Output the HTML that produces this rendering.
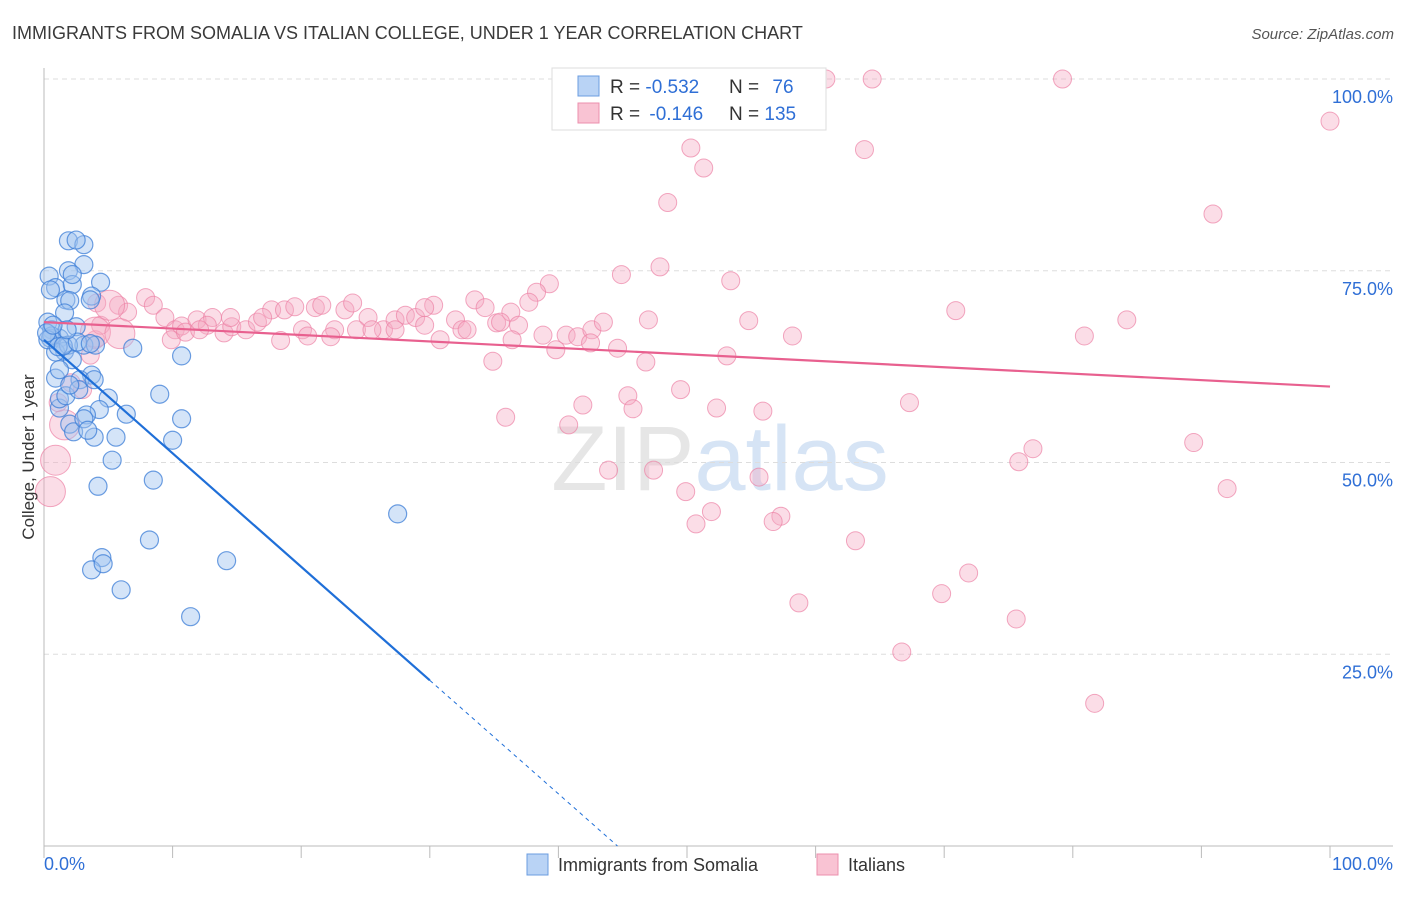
<!DOCTYPE html>
<html><head><meta charset="utf-8"><style>
body{margin:0;background:#fff;font-family:"Liberation Sans",sans-serif;}
svg text{font-family:"Liberation Sans",sans-serif;}
</style></head><body>
<svg id="chart" width="1406" height="892" viewBox="0 0 1406 892" xmlns="http://www.w3.org/2000/svg">
<text x="12" y="39" font-size="18" fill="#3a3a3a">IMMIGRANTS FROM SOMALIA VS ITALIAN COLLEGE, UNDER 1 YEAR CORRELATION CHART</text>
<text x="1394" y="39" font-size="15" fill="#555" text-anchor="end" font-style="italic">Source: ZipAtlas.com</text>
<text x="720" y="490" font-size="92" fill="#e6e6e6" text-anchor="middle" font-family="Liberation Serif">ZIP<tspan fill="#d6e4f5" font-family="Liberation Sans">atlas</tspan></text>
<g id="grid"></g>
<g id="axes"></g>
<g id="pink"></g>
<g id="blue"></g>
<g id="lines"></g>
<text transform="translate(34,457) rotate(-90)" font-size="17" fill="#333" text-anchor="middle">College, Under 1 year</text>
<g>
<rect x="552" y="68" width="274" height="62" fill="#fff" stroke="#ddd"/>
<rect x="578" y="76" width="21" height="20" fill="#b9d3f5" stroke="#6b9de0"/>
<rect x="578" y="103" width="21" height="20" fill="#f9c3d3" stroke="#ec8fae"/>
<text x="610" y="93" font-size="19" fill="#333">R = <tspan fill="#2f6fd6">-0.532</tspan></text>
<text x="729" y="93" font-size="19" fill="#333">N = <tspan fill="#2f6fd6" dx="8">76</tspan></text>
<text x="610" y="120" font-size="19" fill="#333">R = <tspan fill="#2f6fd6" dx="4">-0.146</tspan></text>
<text x="729" y="120" font-size="19" fill="#333">N = <tspan fill="#2f6fd6">135</tspan></text>
</g>
<g>
<rect x="527" y="854" width="21" height="21" fill="#b9d3f5" stroke="#6b9de0"/>
<text x="558" y="871" font-size="18" fill="#333">Immigrants from Somalia</text>
<rect x="817" y="854" width="21" height="21" fill="#f9c3d3" stroke="#ec8fae"/>
<text x="848" y="871" font-size="18" fill="#333">Italians</text>
</g>
</svg>
<script>
const blueX=[1.9,3.1,3.1,1.9,0.4,4.4,0.9,2.2,1.7,3.7,2.0,1.6,0.3,0.6,2.5,1.2,0.5,3.1,4.0,6.9,1.6,0.9,1.9,0.6,2.2,3.7,10.7,0.9,2.8,3.9,5.0,9.0,1.2,6.4,4.3,2.0,3.3,2.3,10.7,5.6,3.9,10.0,5.3,8.5,4.2,8.2,4.5,3.7,4.6,6.0,14.2,11.4,27.5,1.2,1.7,2.7,3.1,3.4,0.3,1.1,0.2,1.5,2.6,1.8,0.7,3.6,2.2,2.5,0.5,3.6,1.2,2.0];
const blueY=[78.9,78.4,75.8,75.0,74.3,73.5,72.8,73.2,71.2,71.7,71.1,69.5,68.3,67.3,67.7,66.2,66.2,65.3,65.3,64.9,64.5,64.4,65.3,66.5,63.4,61.4,63.9,61.0,60.8,60.8,58.4,58.9,57.1,56.3,56.9,55.0,56.2,54.0,55.7,53.3,53.3,52.9,50.3,47.7,46.9,39.9,37.6,36.0,36.8,33.4,37.2,29.9,43.3,58.3,58.7,59.5,55.7,54.2,66.0,65.1,66.9,65.2,65.7,67.3,67.9,65.5,74.5,79.0,72.5,71.2,62.1,60.1];
const pinkX=[56.2,60.8,64.4,79.2,100.0,50.3,63.8,51.3,48.5,90.9,47.9,53.4,44.9,39.3,38.3,70.9,84.2,54.8,58.2,80.9,53.1,46.8,34.9,49.5,45.4,67.3,41.9,35.9,45.8,52.3,55.9,40.8,89.4,76.9,75.8,43.9,47.4,55.6,49.9,92.0,51.9,57.3,50.7,56.7,63.1,71.9,69.8,58.7,75.6,66.7,81.7,
4.1,5.8,7.9,8.5,6.5,9.4,10.2,10.7,11.9,13.1,12.7,14.0,14.6,15.7,16.6,17.7,18.7,19.5,20.1,21.1,21.6,22.6,23.4,24.0,25.2,26.4,27.3,28.1,28.9,30.3,30.8,32.0,32.5,33.5,34.3,35.2,36.3,36.9,37.7,38.8,39.8,40.6,41.5,42.6,43.5,44.6,9.9,11.0,17.0,18.4,20.5,22.3,24.3,25.5,27.3,29.6,32.9,35.5,36.4,42.5,47.0,29.6,12.1,14.5,1.1,2.1,3.0,3.6,4.0,4.4];
const pinkY=[100.0,100.0,100.0,100.0,94.5,91.0,90.8,88.4,83.9,82.4,75.5,73.7,74.5,73.3,72.2,69.8,68.6,68.5,66.5,66.5,63.9,63.1,63.2,59.5,58.7,57.8,57.5,55.9,57.0,57.1,56.7,54.9,52.6,51.8,50.1,49.0,49.0,48.1,46.2,46.6,43.6,43.0,42.0,42.3,39.8,35.6,32.9,31.7,29.6,25.3,18.6,
70.8,70.5,71.5,70.5,69.6,68.9,67.3,67.8,68.6,68.9,67.9,66.9,67.7,67.3,68.3,69.9,69.9,70.3,67.3,70.2,70.5,67.3,69.9,70.8,68.9,67.3,68.6,69.2,68.9,70.5,66.0,68.6,67.3,71.2,70.2,68.2,69.6,67.9,70.9,66.6,64.7,66.6,66.4,67.3,68.3,64.9,66.0,67.0,68.9,65.9,66.5,66.4,67.3,67.3,67.3,67.9,67.3,68.3,66.0,65.6,68.6,70.2,67.3,68.9,57.8,60.4,59.5,64.0,66.0,67.9];
const pinkBigX=[4.0,5.9,0.9,0.5,1.6,5.1];
const pinkBigY=[67.0,66.8,50.3,46.2,54.9,70.5];
const blueTrend=[66.0,-1.48];   // intercept, slope
const pinkTrend=[68.3,-0.084];
const yTicks=[25,50,75,100];
const yTickLabels=["25.0%","50.0%","75.0%","100.0%"];
const xTicks=[0,10,20,30,40,50,60,70,80,90,100];

const NS="http://www.w3.org/2000/svg";
const X0=44,X1=1330,Y0=846,Y100=79;
const sx=v=>X0+(X1-X0)*v/100;
const sy=v=>Y0-(Y0-Y100)*v/100;
function mk(tag,attrs,parent){const e=document.createElementNS(NS,tag);for(const k in attrs)e.setAttribute(k,attrs[k]);parent.appendChild(e);return e;}
const grid=document.getElementById('grid'),axes=document.getElementById('axes');
yTicks.forEach((t,i)=>{
  const l=mk('line',{x1:X0,x2:1393,y1:sy(t),y2:sy(t),stroke:'#ddd','stroke-dasharray':'5,4'},grid);
  
  
  const tx=mk('text',{x:1393,y:sy(t)+24,'font-size':18,fill:'#2f6fd6','text-anchor':'end'},axes);
  tx.textContent=yTickLabels[i];
  
  
});
const ya=mk('line',{x1:X0,x2:X0,y1:68,y2:Y0,stroke:'#bbb'},axes);


const xa=mk('line',{x1:X0,x2:1393,y1:Y0,y2:Y0,stroke:'#bbb'},axes);


xTicks.forEach(t=>{
  const tk=mk('line',{x1:sx(t),x2:sx(t),y1:Y0,y2:Y0+12,stroke:'#bbb'},axes);
  
  
});
const xl0=mk('text',{x:44,y:870,'font-size':18,fill:'#2f6fd6'},axes);xl0.textContent='0.0%';


const xl1=mk('text',{x:1393,y:870,'font-size':18,fill:'#2f6fd6','text-anchor':'end'},axes);xl1.textContent='100.0%';



const pink=document.getElementById('pink'),blue=document.getElementById('blue');
pinkX.forEach((x,i)=>{
  const c=mk('circle',{cx:sx(x),cy:sy(pinkY[i]),r:9,fill:'rgba(246,170,195,0.4)',stroke:'rgba(236,130,165,0.7)','stroke-width':1},pink);
  
  
});
pinkBigX.forEach((x,i)=>{
  const c=mk('circle',{cx:sx(x),cy:sy(pinkBigY[i]),r:15,fill:'rgba(246,170,195,0.4)',stroke:'rgba(236,130,165,0.7)','stroke-width':1},pink);
  
  
});
blueX.forEach((x,i)=>{
  const c=mk('circle',{cx:sx(x),cy:sy(blueY[i]),r:9,fill:'rgba(160,196,240,0.45)',stroke:'rgba(60,125,215,0.75)','stroke-width':1.2},blue);
  
  
});
const lines=document.getElementById('lines');
const pl=mk('line',{x1:sx(0),y1:sy(pinkTrend[0]),x2:sx(100),y2:sy(pinkTrend[0]+pinkTrend[1]*100),stroke:'#e8608f','stroke-width':2.2},lines);


const bEnd=30,bZero=-blueTrend[0]/blueTrend[1];
const bl=mk('line',{x1:sx(0),y1:sy(blueTrend[0]),x2:sx(bEnd),y2:sy(blueTrend[0]+blueTrend[1]*bEnd),stroke:'#1f6fd8','stroke-width':2.2},lines);


const bd=mk('line',{x1:sx(bEnd),y1:sy(blueTrend[0]+blueTrend[1]*bEnd),x2:sx(bZero),y2:sy(0),stroke:'#1f6fd8','stroke-width':1,'stroke-dasharray':'4,4'},lines);


</script>
</body></html>
